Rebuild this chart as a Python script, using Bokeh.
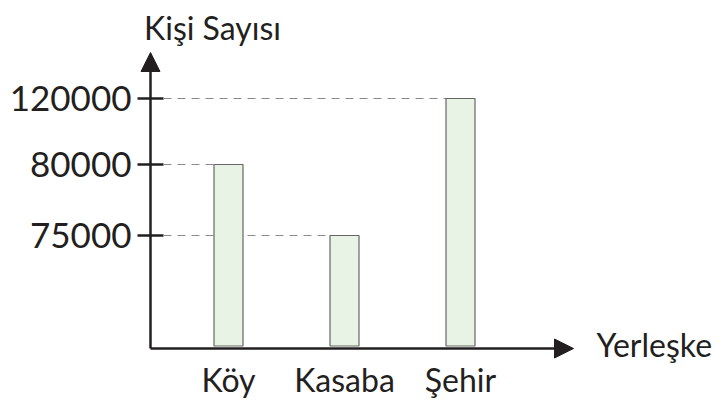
import numpy as np
from bokeh.plotting import figure
from bokeh.models import Range1d, Arrow, NormalHead, Label, ColumnDataSource
from bokeh.core.properties import value
from bokeh.embed import file_html
from bokeh.resources import INLINE

# ---- data ----
categories = ["Köy", "Kasaba", "Şehir"]
people = [80000, 75000, 120000]
# the drawn (non-proportional) axis of the reference: value -> axis level
axis_values = [0, 75000, 80000, 120000]
axis_levels = [0, 113, 184, 250]
tick_values = [75000, 80000, 120000]
tick_labels = ["75000", "80000", "120000"]
x_title = "Yerleşke"
y_title = "Kişi Sayısı"

FONT = "Lato"
INK = "#231f20"

def level(v):
    return float(np.interp(v, axis_values, axis_levels))

xs = list(range(1, len(categories) + 1))
tops = [level(v) for v in people]
tick_levels = [level(v) for v in tick_values]

W, H = 726, 403
UX = 116.0                      # px per category step
def px_x(px):                   # horizontal layout helper (pixels -> x units)
    return 1 + (px - 228) / UX

p = figure(width=W, height=H, output_backend="svg", toolbar_location=None,
           x_range=Range1d(px_x(0), px_x(W)), y_range=Range1d(348 - H, 348),
           min_border_left=0, min_border_right=0, min_border_top=0,
           min_border_bottom=0)
p.outline_line_color = None
p.grid.visible = False
p.axis.visible = False
p.background_fill_color = "white"

ax = px_x(150)                  # position of the vertical axis
tick = 13 / UX

# y ticks and labels
p.segment(x0=[ax - tick] * len(tick_levels), x1=[ax + tick] * len(tick_levels),
          y0=tick_levels, y1=tick_levels, line_color=INK, line_width=2.5)
p.text(x=[px_x(131)] * len(tick_levels), y=tick_levels, text=tick_labels,
       text_align="right", text_baseline="middle", text_font=value(FONT),
       text_font_size="35px", text_color=INK)

# dashed guide lines from axis to each bar
bw = 0.25
for x, t in zip(xs, tops):
    p.line([ax + tick, x - bw / 2], [t, t], line_color="#8a8a8a",
           line_width=1.2, line_dash="8 6")

src = ColumnDataSource(dict(x=xs, top=tops, name=categories))
p.vbar(x="x", top="top", bottom=2.5, width=bw, source=src,
       fill_color="#e8f3e5", line_color="#666666", line_width=1.2)

# category labels under the baseline
p.text(x="x", y=-31, text="name", source=src, text_align="center",
       text_baseline="alphabetic", text_font=value(FONT),
       text_font_size="32px", text_color=INK)

# axes arrows
p.add_layout(Arrow(x_start=ax, y_start=0, x_end=px_x(573), y_end=0,
                   line_color=INK, line_width=2.5,
                   end=NormalHead(size=19, fill_color=INK, line_color=INK)))
p.add_layout(Arrow(x_start=ax, y_start=0, x_end=ax, y_end=296,
                   line_color=INK, line_width=2.5,
                   end=NormalHead(size=19, fill_color=INK, line_color=INK)))

p.add_layout(Label(x=px_x(212), y=321, text=y_title, text_align="center",
                   text_baseline="alphabetic", text_font=FONT,
                   text_font_size="32px", text_color=INK))
p.add_layout(Label(x=px_x(596), y=4, text=x_title, text_align="left",
                   text_baseline="alphabetic", text_font=FONT,
                   text_font_size="32px", text_color=INK))

open("out.html", "w").write(file_html(p, INLINE))
